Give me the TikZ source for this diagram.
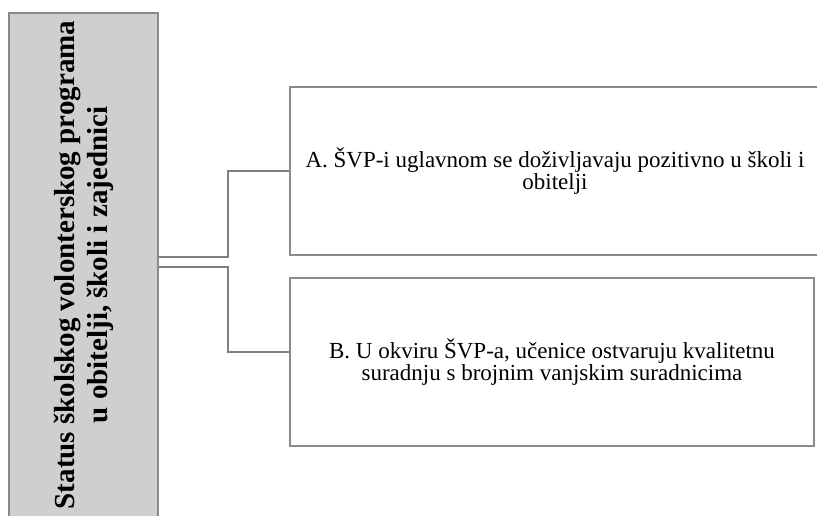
\documentclass[tikz,border=0pt]{standalone}
\usepackage{fontspec}
\setmainfont{Liberation Serif}
\usetikzlibrary{positioning, calc}
\definecolor{stgray}{HTML}{D0CED0}
\definecolor{stedge}{HTML}{8A8A8A}
\definecolor{stline}{HTML}{7F7F7F}
\tikzset{
  themebox/.style={draw=stedge, line width=1.5pt, minimum height=168pt,
                   align=center, font=\fontsize{23}{18}\selectfont},
  link/.style={draw=stline, line width=2pt}
}
\begin{document}
\begin{tikzpicture}[x=1pt, y=1pt]
  \useasboundingbox (0,0) rectangle (817,-515);
  \node[draw=stedge, fill=stgray, line width=1.5pt, rotate=90,
        minimum width=504pt, minimum height=149pt, align=center,
        font=\fontsize{29}{33}\selectfont\bfseries] (status) at (83.5,-265)
        {Status školskog volonterskog programa\\u obitelji, školi i zajednici};
  \node[themebox, minimum width=530pt] (optA) at (555,-171)
        {A. ŠVP-i uglavnom se doživljavaju pozitivno u školi i\\obitelji};
  \node[themebox, minimum width=524pt] (optB) at (552,-362)
        {B. U okviru ŠVP-a, učenice ostvaruju kvalitetnu\\suradnju s brojnim vanjskim suradnicima};
  \draw[link] ([yshift=8pt]status.south) -- ++(69,0) |- (optA.west);
  \draw[link] ([yshift=-2pt]status.south) -- ++(69,0) |- ([yshift=10pt]optB.west);
\end{tikzpicture}
\end{document}
